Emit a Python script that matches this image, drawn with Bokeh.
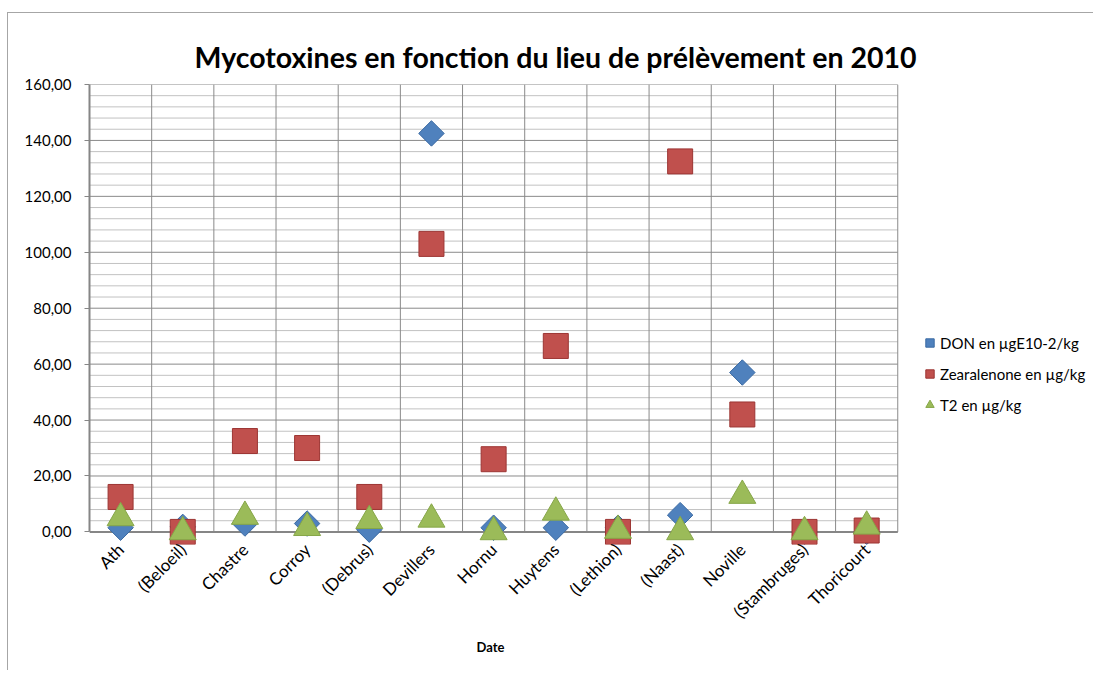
import math
from bokeh.plotting import figure
from bokeh.models import (Range1d, FixedTicker, CustomJSTickFormatter, Legend, LegendItem, Title)
from bokeh.embed import file_html
from bokeh.resources import INLINE

# ---- data ----
categories = ["Ath", "(Beloeil)", "Chastre", "Corroy", "(Debrus)", "Devillers", "Hornu",
              "Huytens", "(Lethion)", "(Naast)", "Noville", "(Stambruges)", "Thoricourt"]
don = [1.5, 1.8, 3.0, 3.0, 0.8, 142.5, 1.5, 1.5, 1.5, 6.0, 57.0, 0.0, 0.0]
zearalenone = [12.5, 0.0, 32.5, 30.0, 12.5, 103.0, 26.0, 66.5, 0.0, 132.5, 42.0, 0.0, 0.5]
t2 = [5.0, 0.0, 5.5, 1.5, 4.0, 4.5, 0.0, 7.0, 0.5, 0.0, 13.0, 0.0, 2.0]
y_major = [0, 20, 40, 60, 80, 100, 120, 140, 160]
y_minor = [v for v in range(0, 161, 4) if v % 20 != 0]

series_names = ["DON en µgE10-2/kg", "Zearalenone en µg/kg", "T2 en µg/kg"]
x_title = "Date"

n = len(categories)
xs = [i + 0.5 for i in range(n)]

FONT = "Lato"

# frame extends right over the legend area so the legend is not clipped
p = figure(width=1086, height=658, output_backend="svg", toolbar_location=None,
           x_range=Range1d(0, 16.1), y_range=Range1d(-4.5, 160),
           min_border_left=81, min_border_right=4, min_border_top=71, min_border_bottom=127)
p.styles = {"margin-left": "7px", "margin-top": "12px",
            "border-left": "1px solid #a6a6a6", "border-top": "1px solid #a6a6a6"}
p.outline_line_color = None
p.background_fill_color = "white"
p.border_fill_color = "white"

# title
p.title.text = "Mycotoxines en fonction du lieu de prélèvement en 2010"
p.title.text_font = FONT
p.title.text_font_size = "28.5px"
p.title.text_font_style = "bold"
p.title.align = "left"
p.title.vertical_align = "top"
p.title.offset = 105
p.title.standoff = 18
p.title.text_color = "black"

# grid lines restricted to the plot area (categories 0..n, values 0..160)
p.xgrid.visible = False
p.ygrid.visible = False
p.segment(x0=[0] * len(y_minor), y0=y_minor, x1=[n] * len(y_minor), y1=y_minor,
          line_color="#c2c2c2", line_width=1)
p.segment(x0=[0] * len(y_major), y0=y_major, x1=[n] * len(y_major), y1=y_major,
          line_color="#8a8a8a", line_width=1)
bounds = list(range(n + 1))
p.segment(x0=bounds, y0=[y_major[0]] * len(bounds), x1=bounds, y1=[y_major[-1]] * len(bounds),
          line_color="#8a8a8a", line_width=1)
# category axis baseline at value 0
p.segment(x0=[0], y0=[y_major[0]], x1=[n], y1=[y_major[0]], line_color="#868686", line_width=2)

# y axis
p.yaxis.ticker = FixedTicker(ticks=y_major, minor_ticks=[])
p.yaxis.formatter = CustomJSTickFormatter(code="return tick.toFixed(2).replace('.', ',');")
p.yaxis.bounds = (y_major[0], y_major[-1])
p.yaxis.axis_line_color = "#868686"
p.yaxis.axis_line_width = 2
p.yaxis.major_tick_line_color = "#868686"
p.yaxis.major_tick_out = 5
p.yaxis.major_tick_in = 0
p.yaxis.minor_tick_line_color = None
p.yaxis.major_label_text_font = FONT
p.yaxis.major_label_text_font_size = "15px"
p.yaxis.major_label_text_color = "black"
p.yaxis.major_label_standoff = 13

# x axis
p.xaxis.ticker = FixedTicker(ticks=xs, minor_ticks=[])
p.xaxis.formatter = CustomJSTickFormatter(args=dict(labels=categories),
                                          code="return labels[Math.floor(tick)] || '';")
p.xaxis.axis_line_color = None
p.xaxis.major_tick_line_color = None
p.xaxis.minor_tick_line_color = None
p.xaxis.major_tick_out = 0
p.xaxis.major_tick_in = 0
p.xaxis.major_label_orientation = math.pi / 4
p.xaxis.major_label_text_font = FONT
p.xaxis.major_label_text_font_size = "17px"
p.xaxis.major_label_text_color = "black"
p.xaxis.major_label_standoff = 2

# x axis title centred under the category area
p.add_layout(Title(text=x_title, align="left", offset=387, standoff=8,
                   text_font=FONT, text_font_size="13px", text_font_style="bold",
                   text_color="black"), "below")

# series
r_don = p.scatter(xs, don, marker="square", angle=math.pi / 4, size=18,
                  fill_color="#4F81BD", line_color="#3a6aa3", line_width=1)
r_zea = p.scatter(xs, zearalenone, marker="square", size=25,
                  fill_color="#C0504D", line_color="#9c3533", line_width=1)
r_t2 = p.scatter(xs, t2, marker="triangle", size=27,
                 fill_color="#9BBB59", line_color="#86a648", line_width=1)

legend = Legend(items=[LegendItem(label=series_names[0], renderers=[r_don]),
                       LegendItem(label=series_names[1], renderers=[r_zea]),
                       LegendItem(label=series_names[2], renderers=[r_t2])],
                location=(830, 129), orientation="vertical",
                border_line_color=None, background_fill_alpha=0,
                glyph_width=21, glyph_height=21, label_height=21, spacing=10,
                label_standoff=0, padding=0, margin=0,
                label_text_font=FONT, label_text_font_size="15px", label_text_color="black")
p.add_layout(legend, "center")

open("out.html", "w").write(file_html(p, INLINE))
